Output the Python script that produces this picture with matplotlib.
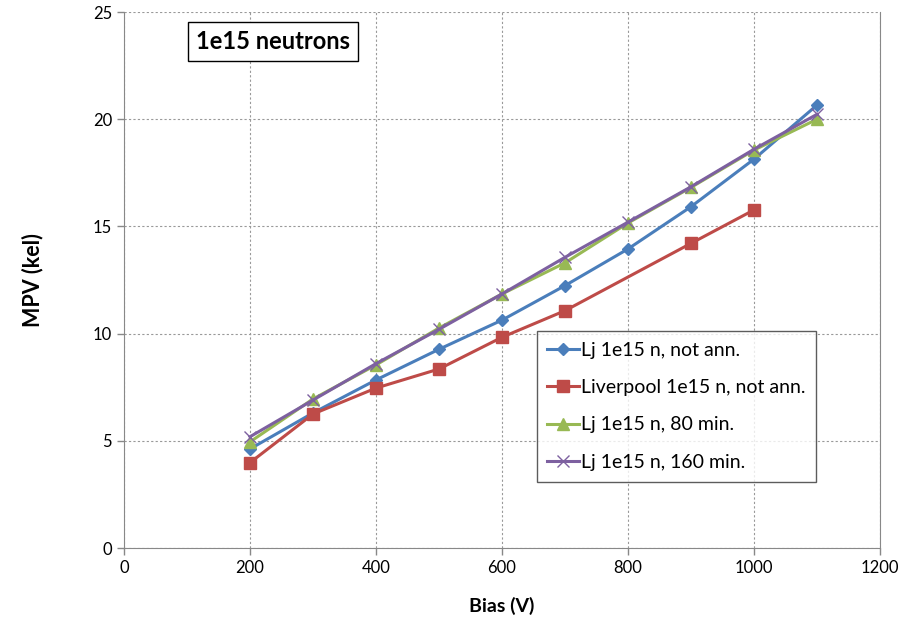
import numpy as np
import matplotlib.pyplot as plt

plt.rcParams['font.family'] = ['Lato', 'DejaVu Sans']

bias = [200, 300, 400, 500, 600, 700, 800, 900, 1000, 1100]
bias_liv = [200, 300, 400, 500, 600, 700, 900, 1000]

lj_not_ann = [4.62, 6.3, 7.84, 9.27, 10.63, 12.24, 13.95, 15.92, 18.14, 20.66]
liv_not_ann = [3.98, 6.25, 7.46, 8.35, 9.83, 11.07, 14.21, 15.77]
lj_80min = [4.95, 6.95, 8.54, 10.26, 11.85, 13.3, 15.16, 16.82, 18.56, 20.0]
lj_160min = [5.19, 6.9, 8.6, 10.2, 11.85, 13.56, 15.2, 16.85, 18.6, 20.23]

fig = plt.figure(figsize=(9.19, 6.2), dpi=100)
ax = fig.add_axes([0.1349, 0.1161, 0.8227, 0.8645])

ax.plot(bias, lj_not_ann, color='#4A7EBB', marker='D', markersize=6, lw=2.2,
        label='Lj 1e15 n, not ann.')
ax.plot(bias_liv, liv_not_ann, color='#BE4B48', marker='s', markersize=9, lw=2.2,
        label='Liverpool 1e15 n, not ann.')
ax.plot(bias, lj_80min, color='#98B954', marker='^', markersize=9, lw=2.2,
        label='Lj 1e15 n, 80 min.')
ax.plot(bias, lj_160min, color='#7D60A0', marker='x', markersize=9, lw=2.2,
        markeredgewidth=1.0, label='Lj 1e15 n, 160 min.')

ax.set_xlim(0, 1200)
ax.set_ylim(0, 25)
ax.set_xticks(np.arange(0, 1201, 200))
ax.set_yticks(np.arange(0, 26, 5))
ax.grid(color='#999999', linestyle=(0, (2, 2)), linewidth=0.8)
ax.set_axisbelow(True)
ax.tick_params(labelsize=12, color='#888888', length=5, width=1)
for side in ['left', 'bottom', 'right']:
    ax.spines[side].set_color('#888888')
ax.spines['top'].set_visible(False)

ax.set_xlabel('Bias (V)', fontsize=14, fontweight='bold', labelpad=15)
ax.set_ylabel('MPV (kel)', fontsize=15.5, fontweight='bold', labelpad=36)

ax.text(0.095, 0.945, '1e15 neutrons', transform=ax.transAxes, fontsize=17,
        fontweight='bold', va='center', ha='left',
        bbox=dict(boxstyle='square,pad=0.35', fc='white', ec='black', lw=1))

leg = ax.legend(loc='upper left', bbox_to_anchor=(0.546, 0.405), fontsize=14,
                frameon=True, fancybox=False, edgecolor='#333333',
                labelspacing=1.05, handlelength=1.6, handletextpad=0.1,
                borderpad=0.55, borderaxespad=0)
leg.get_frame().set_linewidth(1.0)

fig.savefig('out.png', dpi=100)
